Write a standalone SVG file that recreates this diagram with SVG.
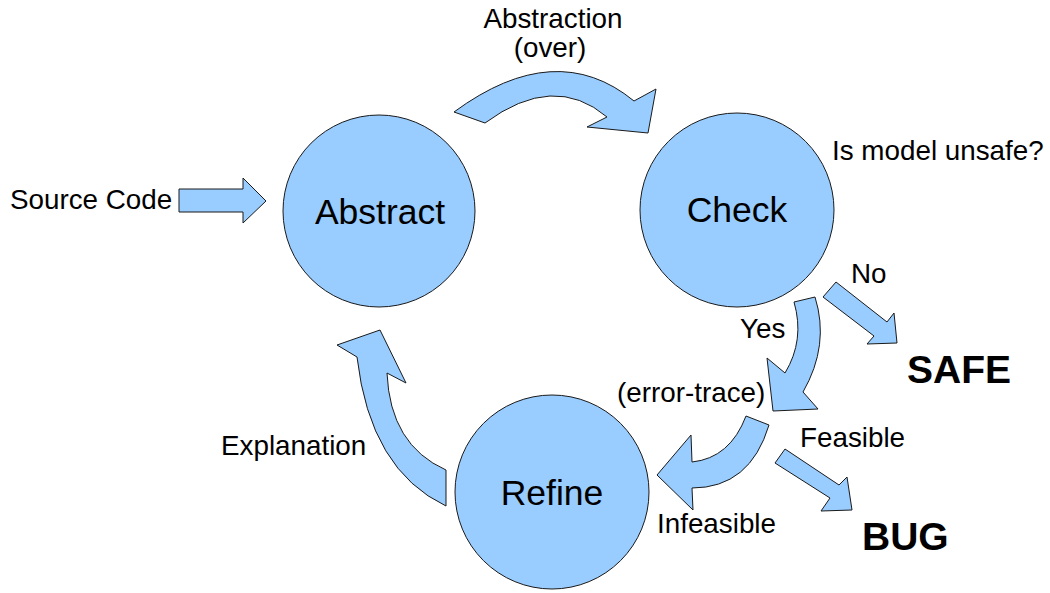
<svg xmlns="http://www.w3.org/2000/svg" width="1050" height="593" viewBox="0 0 1050 593">
  <style>
    .node { fill: #99ccff; stroke: #1a1a1a; stroke-width: 1; }
    .arrow { fill: #99ccff; stroke: #1a1a1a; stroke-width: 1; stroke-linejoin: miter; }
    .title { font-family: "Liberation Sans", Arial, sans-serif; font-size: 35.5px; fill: #000; text-anchor: middle; }
    .label { font-family: "Liberation Sans", Arial, sans-serif; font-size: 27.8px; fill: #000; }
    .result { font-family: "Liberation Sans", Arial, sans-serif; font-size: 39px; font-weight: bold; fill: #000; }
  </style>
  <rect width="1050" height="593" fill="#ffffff"/>

  <!-- block arrows between the stages -->
  <g id="connectors">
    <path id="arrow-source" class="arrow" d="M179 189 L243 189 L243 178 L266 201 L243 223 L243 212 L179 212 Z"/>
    <path id="arrow-abstraction" class="arrow" d="M454 112 Q556 37 634 101 L656 89 L648 133 L587 127 L607 117 Q554 72 485 123 Z"/>
    <path id="arrow-no" class="arrow" d="M823 297 L836 282 L887 322 L894 313 L897 343 L867 344 L874 336 Z"/>
    <path id="arrow-yes" class="arrow" d="M794 302 L815 297 Q830 345 803 392 L818 409 L773 411 L767 358 L785 373 Q805 340 794 302 Z"/>
    <path id="arrow-infeasible" class="arrow" d="M746 416 L769 425 Q750 488 692 488 L693 510 L657 475 L691 435 L692 462 Q730 458 746 416 Z"/>
    <path id="arrow-feasible" class="arrow" d="M775 463 L785 449 L839 485 L847 477 L852 510 L821 511 L830 498 Z"/>
    <path id="arrow-explanation" class="arrow" d="M446 506 Q370 470 357 357 L337 345 L380 330 L406 383 L387 373 Q390 445 446 470 Z"/>
  </g>

  <!-- stages -->
  <g id="node-abstract">
    <circle class="node" cx="379" cy="211" r="96"/>
    <text class="title" x="380" y="224">Abstract</text>
  </g>
  <g id="node-check">
    <circle class="node" cx="737" cy="210" r="97"/>
    <text class="title" x="737" y="222">Check</text>
  </g>
  <g id="node-refine">
    <circle class="node" cx="552" cy="492" r="97"/>
    <text class="title" x="552" y="505">Refine</text>
  </g>

  <!-- outcomes -->
  <g id="node-safe">
    <text class="result" x="907" y="383">SAFE</text>
  </g>
  <g id="node-bug">
    <text class="result" x="862" y="550">BUG</text>
  </g>

  <!-- annotations -->
  <g id="labels">
    <text class="label" x="10" y="209">Source Code</text>
    <text class="label" x="553" y="28" text-anchor="middle">Abstraction</text>
    <text class="label" x="550" y="57" text-anchor="middle">(over)</text>
    <text class="label" x="832" y="160">Is model unsafe?</text>
    <text class="label" x="851" y="283">No</text>
    <text class="label" x="740" y="338">Yes</text>
    <text class="label" x="617" y="402">(error-trace)</text>
    <text class="label" x="800" y="447">Feasible</text>
    <text class="label" x="657" y="533">Infeasible</text>
    <text class="label" x="221" y="455">Explanation</text>
  </g>
</svg>
